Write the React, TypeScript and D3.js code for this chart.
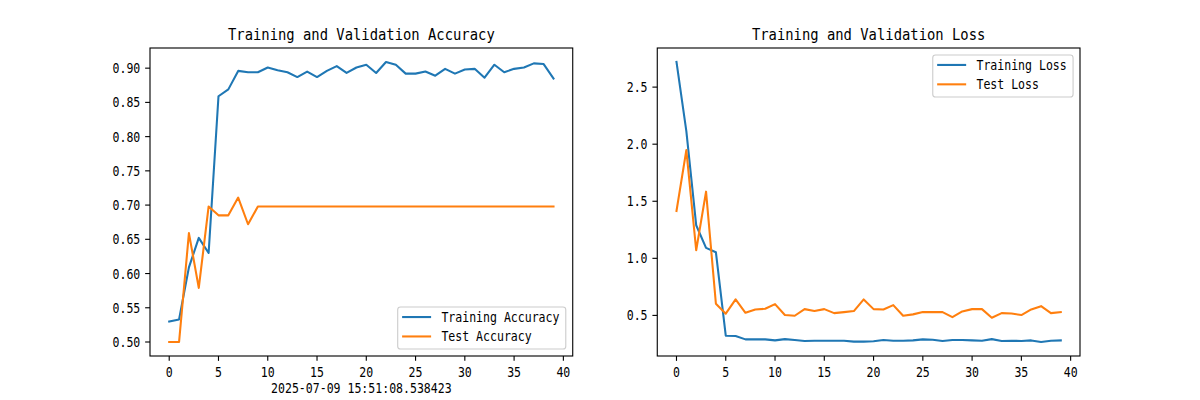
import React from "react";
import * as d3 from "d3";

const epochs = d3.range(40);

const trainAcc = [
  0.530, 0.533, 0.609, 0.652, 0.630, 0.859, 0.869, 0.896, 0.894, 0.894,
  0.901, 0.897, 0.894, 0.887, 0.895, 0.887, 0.896, 0.903, 0.893, 0.901,
  0.905, 0.893, 0.909, 0.905, 0.892, 0.892, 0.895, 0.889, 0.899, 0.892,
  0.898, 0.899, 0.886, 0.905, 0.894, 0.899, 0.901, 0.907, 0.906, 0.885,
];
const testAcc = [
  0.500, 0.500, 0.659, 0.579, 0.698, 0.685, 0.685, 0.711, 0.672, 0.698,
  0.698, 0.698, 0.698, 0.698, 0.698, 0.698, 0.698, 0.698, 0.698, 0.698,
  0.698, 0.698, 0.698, 0.698, 0.698, 0.698, 0.698, 0.698, 0.698, 0.698,
  0.698, 0.698, 0.698, 0.698, 0.698, 0.698, 0.698, 0.698, 0.698, 0.698,
];
const trainLoss = [
  2.720, 2.115, 1.290, 1.092, 1.053, 0.322, 0.320, 0.290, 0.290, 0.290,
  0.281, 0.292, 0.284, 0.276, 0.278, 0.278, 0.278, 0.278, 0.270, 0.270,
  0.273, 0.284, 0.278, 0.278, 0.281, 0.290, 0.287, 0.276, 0.284, 0.284,
  0.281, 0.278, 0.292, 0.276, 0.278, 0.276, 0.281, 0.267, 0.278, 0.281,
];
const testLoss = [
  1.415, 1.948, 1.071, 1.584, 0.602, 0.515, 0.640, 0.523, 0.552, 0.558,
  0.599, 0.503, 0.497, 0.555, 0.538, 0.555, 0.520, 0.529, 0.538, 0.640,
  0.555, 0.552, 0.590, 0.497, 0.509, 0.529, 0.529, 0.529, 0.485, 0.535,
  0.555, 0.555, 0.480, 0.520, 0.517, 0.503, 0.552, 0.581, 0.520, 0.529,
];

const xTicks = [0, 5, 10, 15, 20, 25, 30, 35, 40];
const accTicks = [0.5, 0.55, 0.6, 0.65, 0.7, 0.75, 0.8, 0.85, 0.9];
const lossTicks = [0.5, 1.0, 1.5, 2.0, 2.5];

const accTitle = "Training and Validation Accuracy";
const lossTitle = "Training and Validation Loss";
const accLabels = ["Training Accuracy", "Test Accuracy"];
const lossLabels = ["Training Loss", "Test Loss"];
const timestamp = "2025-07-09 15:51:08.538423";

const W = 1200;
const H = 400;
const TOP = 48;
const BOTTOM = 356;
const AXW = 930 / 2.2;
const LEFTS = [150, 150 + AXW * 1.2];
const BLUE = "#1f77b4";
const ORANGE = "#ff7f0e";
const FONT = "'DejaVu Sans Mono', 'Liberation Mono', monospace";
const FS = 13.89;
const TFS = 16.67;

function MText(props: {
  x: number; y: number; text: string; size: number; anchor?: string;
}) {
  const { x, y, text, size, anchor } = props;
  return (
    <text
      x={x}
      y={y}
      fontFamily={FONT}
      fontSize={size}
      textAnchor={anchor || "start"}
      textLength={text.length * size * 0.5}
      lengthAdjust="spacingAndGlyphs"
      fill="#000"
    >
      {text}
    </text>
  );
}

function Panel(props: {
  left: number;
  series: number[][];
  yTicks: number[];
  fmt: (v: number) => string;
  title: string;
  labels: string[];
  legendPos: "lr" | "ur";
  xlabel?: string;
}) {
  const { left, series, yTicks, fmt, title, labels, legendPos, xlabel } = props;
  const right = left + AXW;
  const x = d3.scaleLinear().domain([-1.95, 40.95]).range([left, right]);
  const all = series.flat();
  const mn = d3.min(all)!;
  const mx = d3.max(all)!;
  const pad = (mx - mn) * 0.05;
  const y = d3.scaleLinear().domain([mn - pad, mx + pad]).range([BOTTOM, TOP]);
  const line = d3
    .line<number>()
    .x((_, i) => x(epochs[i]))
    .y((d) => y(d));
  const colors = [BLUE, ORANGE];
  const tl = 4.86;

  // legend geometry
  const maxLen = d3.max(labels, (l) => l.length)!;
  const bw = 5.56 + 27.8 + 11.1 + maxLen * FS * 0.5 + 5.56;
  const bh = 42;
  const bx = right - 6.94 - bw;
  const by = legendPos === "lr" ? BOTTOM - 6.94 - bh : TOP + 6.94;

  return (
    <g>
      <defs>
        <clipPath id={"clip" + left}>
          <rect x={left} y={TOP} width={AXW} height={BOTTOM - TOP} />
        </clipPath>
      </defs>
      <rect x={left} y={TOP} width={AXW} height={BOTTOM - TOP} fill="#fff" />
      <g clipPath={`url(#clip${left})`}>
        {series.map((s, k) => (
          <path
            key={k}
            d={line(s) || ""}
            fill="none"
            stroke={colors[k]}
            strokeWidth={2.08}
            strokeLinejoin="round"
            strokeLinecap="square"
          />
        ))}
      </g>
      <rect
        x={left}
        y={TOP}
        width={AXW}
        height={BOTTOM - TOP}
        fill="none"
        stroke="#000"
        strokeWidth={1.11}
      />
      {xTicks.map((t) => (
        <g key={"x" + t}>
          <line x1={x(t)} x2={x(t)} y1={BOTTOM} y2={BOTTOM + tl} stroke="#000" strokeWidth={1.11} />
          <MText x={x(t)} y={BOTTOM + 21} text={String(t)} size={FS} anchor="middle" />
        </g>
      ))}
      {yTicks.map((t) => (
        <g key={"y" + t}>
          <line x1={left - tl} x2={left} y1={y(t)} y2={y(t)} stroke="#000" strokeWidth={1.11} />
          <MText x={left - tl - 4.86} y={y(t) + 5} text={fmt(t)} size={FS} anchor="end" />
        </g>
      ))}
      <MText x={(left + right) / 2} y={40} text={title} size={TFS} anchor="middle" />
      {xlabel && (
        <MText x={(left + right) / 2} y={393} text={xlabel} size={FS} anchor="middle" />
      )}
      <g>
        <rect
          x={bx}
          y={by}
          width={bw}
          height={bh}
          rx={2.8}
          fill="#fff"
          fillOpacity={0.8}
          stroke="#cccccc"
          strokeWidth={1.11}
        />
        {labels.map((l, k) => {
          const cy = by + 10 + k * 19.4;
          return (
            <g key={l}>
              <line
                x1={bx + 4.4}
                x2={bx + 4.4 + 29}
                y1={cy}
                y2={cy}
                stroke={colors[k]}
                strokeWidth={2.08}
              />
              <MText x={bx + 43.7} y={cy + 5} text={l} size={FS} />
            </g>
          );
        })}
      </g>
    </g>
  );
}

export default function App() {
  return (
    <svg
      width={W}
      height={H}
      style={{ position: "absolute", left: 0, top: 0, background: "#fff" }}
    >
      <rect width={W} height={H} fill="#fff" />
      <Panel
        left={LEFTS[0]}
        series={[trainAcc, testAcc]}
        yTicks={accTicks}
        fmt={d3.format(".2f")}
        title={accTitle}
        labels={accLabels}
        legendPos="lr"
        xlabel={timestamp}
      />
      <Panel
        left={LEFTS[1]}
        series={[trainLoss, testLoss]}
        yTicks={lossTicks}
        fmt={d3.format(".1f")}
        title={lossTitle}
        labels={lossLabels}
        legendPos="ur"
      />
    </svg>
  );
}
